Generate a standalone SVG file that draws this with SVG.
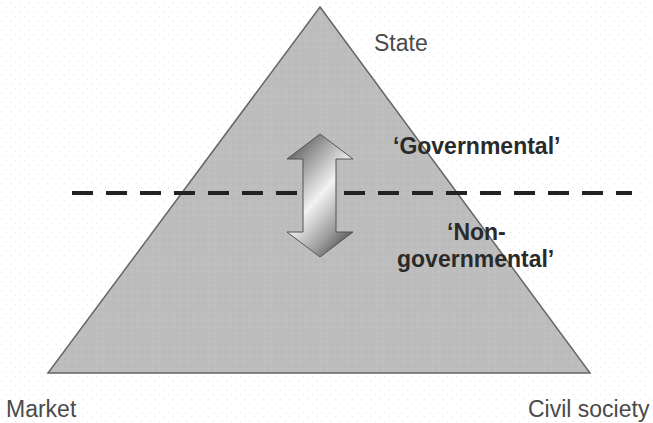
<svg xmlns="http://www.w3.org/2000/svg" width="653" height="423" viewBox="0 0 653 423">
  <defs>
    <pattern id="stip" width="9" height="9" patternUnits="userSpaceOnUse">
      <circle cx="2" cy="3" r="0.6" fill="#d8d8d8"/>
      <circle cx="6.5" cy="7.5" r="0.6" fill="#dddddd"/>
    </pattern>
    <pattern id="stip2" width="7" height="7" patternUnits="userSpaceOnUse">
      <rect width="7" height="7" fill="#bdbdbd"/>
      <circle cx="2" cy="2" r="0.7" fill="#b0b0b0"/>
      <circle cx="5.5" cy="5" r="0.7" fill="#c8c8c8"/>
    </pattern>
    <linearGradient id="arrowGrad" x1="0.2" y1="0" x2="0.8" y2="1">
      <stop offset="0" stop-color="#5a5a5a"/>
      <stop offset="0.2" stop-color="#9a9a9a"/>
      <stop offset="0.5" stop-color="#f2f2f2"/>
      <stop offset="0.8" stop-color="#9a9a9a"/>
      <stop offset="1" stop-color="#4a4a4a"/>
    </linearGradient>
  </defs>
  <style>
    .lbl { font-family: "Liberation Sans", Arial, sans-serif; font-size: 23px; fill: #4a4a4a; }
    .bold { font-family: "Liberation Sans", Arial, sans-serif; font-size: 23px; font-weight: bold; fill: #2a2a2a; }
    .tri { fill: url(#stip2); stroke: #666666; stroke-width: 1.5; stroke-linejoin: miter; }
    .divider { stroke: #222222; stroke-width: 4; stroke-dasharray: 21 13; fill: none; }
    .arrow { fill: url(#arrowGrad); stroke: #555555; stroke-width: 1; }
  </style>
  <rect width="653" height="423" fill="#ffffff"/>
  <rect width="653" height="423" fill="url(#stip)"/>
  <g id="triangle">
    <polygon class="tri" points="320,7 590,373 48,373"/>
  </g>
  <g id="connectors">
    <line class="divider" x1="72" y1="193" x2="632" y2="193"/>
    <polygon class="arrow" points="320,134 353,159 336,159 336,232 353,232 320,257 287,232 303,232 303,159 287,159"/>
  </g>
  <g id="state">
    <text class="lbl" x="374" y="51">State</text>
  </g>
  <g id="market">
    <text class="lbl" x="6" y="417">Market</text>
  </g>
  <g id="civil-society">
    <text class="lbl" x="528" y="417">Civil society</text>
  </g>
  <g id="governmental">
    <text class="bold" x="393" y="154">‘Governmental’</text>
  </g>
  <g id="non-governmental">
    <text class="bold" x="447" y="240">‘Non-</text>
    <text class="bold" x="397" y="267">governmental’</text>
  </g>
</svg>
